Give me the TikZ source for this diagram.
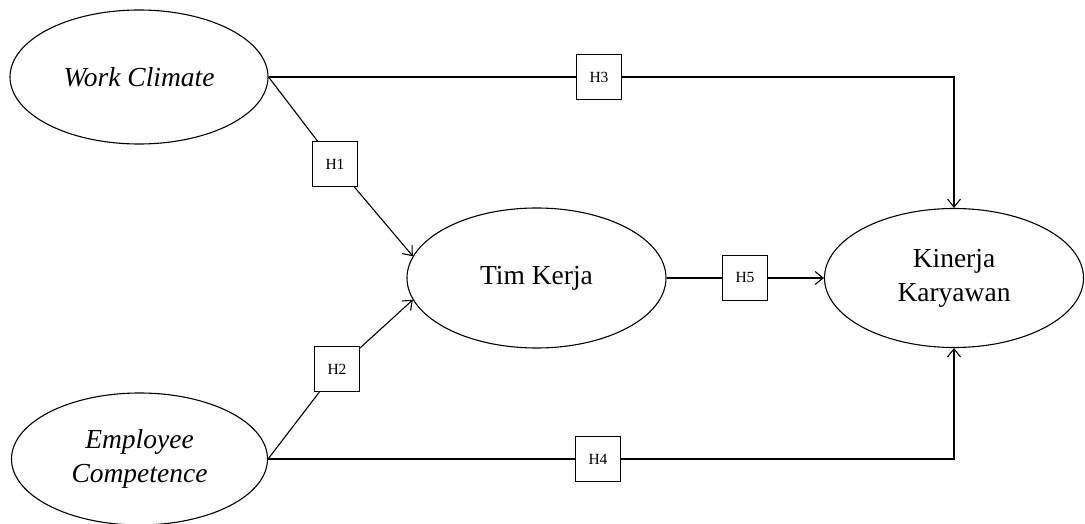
\documentclass[tikz,border=0pt]{standalone}
\usepackage{fontspec}
\setmainfont{Liberation Serif}
\usetikzlibrary{shapes.geometric,arrows.meta}
\begin{document}
\begin{tikzpicture}[x=1pt,y=-1pt,
  var/.style={draw, ellipse, line width=1.1pt, inner sep=0pt, align=center,
    font=\fontsize{27.5}{34}\selectfont},
  hyp/.style={draw, rectangle, line width=1.1pt, fill=white, inner sep=0pt,
    minimum size=45pt, font=\fontsize{15.5}{18}\selectfont},
  conn/.style={line width=1.1pt},
  arr/.style={conn, -{Straight Barb[length=8pt,width=13pt,line width=1.1pt]}}]
\useasboundingbox (0,0) rectangle (1085,524);
\node[var, minimum width=258pt, minimum height=134pt] (wc) at (139,77) {\itshape Work Climate};
\node[var, minimum width=256pt, minimum height=132pt] (ec) at (139.5,459) {\itshape Employee\\\itshape Competence};
\node[var, minimum width=259pt, minimum height=140pt] (tk) at (536.5,278) {Tim Kerja};
\node[var, minimum width=259pt, minimum height=139pt] (kk) at (954,278) {Kinerja\\Karyawan};
\node[hyp] (h1) at (335,164) {H1};
\node[hyp] (h2) at (337,369) {H2};
\node[hyp] (h3) at (599,77) {H3};
\node[hyp] (h4) at (598,459) {H4};
\node[hyp] (h5) at (745,278) {H5};
\draw[conn] (wc.east) -- (h1);
\draw[arr] (h1) -- (tk.170);
\draw[conn] (ec.east) -- (h2);
\draw[arr] (h2) -- (tk.190);
\draw[conn] (wc.east) -- (h3);
\draw[arr] (h3) -| (kk);
\draw[conn] (ec.east) -- (h4);
\draw[arr] (h4) -| (kk);
\draw[conn] (tk.east) -- (h5);
\draw[arr] (h5) -- (kk);
\end{tikzpicture}
\end{document}
